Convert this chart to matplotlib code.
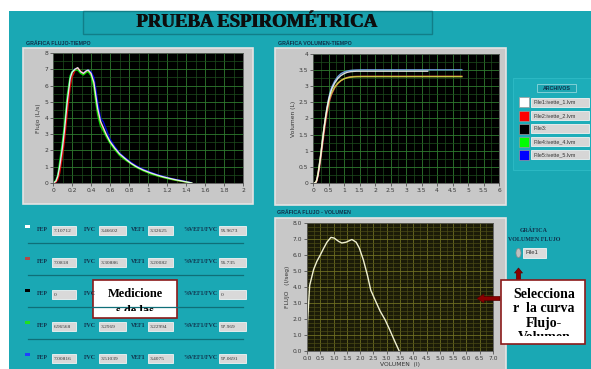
import matplotlib
matplotlib.use("Agg")
import matplotlib.pyplot as plt
from matplotlib.patches import Rectangle, FancyArrow, Ellipse
import numpy as np

# ---------------- data ----------------
file_labels = ['File1:ivette_1.lvm', 'File2:ivette_2.lvm', 'File3:',
               'File4:ivette_4.lvm', 'File5:ivette_5.lvm']
file_colors = ['#ffffff', '#ff0000', '#000000', '#00ff00', '#0000ff']
row_marker_colors = ['#ffffff', '#b04848', '#000000', '#20e020', '#2040ff']

# Flow - time (L/s)
t_flow = [0.0, 0.03, 0.05, 0.07, 0.1, 0.12, 0.15, 0.18, 0.2, 0.23, 0.26, 0.29,
          0.32, 0.35, 0.37, 0.4, 0.43, 0.45, 0.47, 0.5, 0.53, 0.56, 0.6, 0.65,
          0.7, 0.76, 0.82, 0.88, 0.95, 1.02, 1.09, 1.16, 1.23, 1.3, 1.37, 1.42, 1.46]
flow_file1 = [0, 0.1, 0.4, 1.0, 2.2, 3.2, 5.0, 6.4, 6.8, 7.0, 7.1, 6.85, 6.75, 6.9,
              6.95, 6.75, 6.2, 5.4, 4.6, 3.8, 3.4, 3.0, 2.55, 2.15, 1.8, 1.5, 1.22,
              1.0, 0.8, 0.64, 0.5, 0.38, 0.28, 0.19, 0.11, 0.05, 0.0]
flow_file2 = [0, 0.05, 0.2, 0.6, 1.7, 2.6, 4.3, 5.9, 6.5, 6.9, 7.05, 6.9, 6.7, 6.85,
              6.9, 6.7, 6.1, 5.2, 4.4, 3.7, 3.3, 2.95, 2.5, 2.1, 1.75, 1.45, 1.2,
              0.97, 0.77, 0.6, 0.46, 0.35, 0.25, 0.16, 0.09, 0.04, 0.0]
flow_file4 = [0, 0.15, 0.5, 1.3, 2.6, 3.6, 5.4, 6.6, 6.85, 6.95, 6.95, 6.75, 6.65,
              6.8, 6.85, 6.6, 5.9, 5.0, 4.2, 3.5, 3.2, 2.85, 2.45, 2.05, 1.7, 1.42,
              1.18, 0.95, 0.75, 0.58, 0.45, 0.34, 0.24, 0.16, 0.09, 0.04, 0.0]
flow_file5 = [0, 0.1, 0.45, 1.1, 2.4, 3.4, 5.1, 6.5, 6.85, 7.0, 7.0, 6.85, 6.75,
              6.9, 6.95, 6.85, 6.5, 5.8, 5.0, 4.0, 3.75, 3.3, 2.7, 2.25, 1.85, 1.55,
              1.28, 1.05, 0.85, 0.68, 0.53, 0.41, 0.3, 0.21, 0.13, 0.07, 0.02]

# Volume - time (L)
t_vol = [0.0, 0.08, 0.12, 0.16, 0.2, 0.25, 0.3, 0.35, 0.4, 0.45, 0.5, 0.55, 0.6,
         0.7, 0.8, 0.9, 1.0, 1.1, 1.2, 1.3, 1.4, 1.6, 2.0, 3.0, 3.7, 4.8]
vol_file1 = [0, 0, 0.08, 0.25, 0.5, 0.85, 1.25, 1.65, 2.0, 2.3, 2.55, 2.75, 2.9,
             3.1, 3.24, 3.33, 3.39, 3.43, 3.45, 3.46, 3.466, 3.466, 3.466, 3.466,
             3.466, np.nan]
vol_file2 = [0, 0, 0.05, 0.2, 0.42, 0.75, 1.12, 1.5, 1.85, 2.15, 2.4, 2.6, 2.75,
             2.95, 3.08, 3.17, 3.23, 3.27, 3.29, 3.3, 3.305, 3.309, 3.309, 3.309,
             3.309, 3.309]
vol_file4 = [0, 0, 0.1, 0.3, 0.55, 0.9, 1.3, 1.68, 2.0, 2.28, 2.5, 2.68, 2.8,
             2.98, 3.1, 3.18, 3.23, 3.26, 3.28, 3.29, 3.295, 3.297, 3.297, 3.297,
             3.297, 3.297]
vol_file5 = [0, 0, 0.09, 0.27, 0.53, 0.88, 1.28, 1.68, 2.03, 2.34, 2.6, 2.8, 2.96,
             3.16, 3.3, 3.39, 3.44, 3.47, 3.49, 3.5, 3.505, 3.51, 3.51, 3.51,
             3.51, 3.51]

# Flow - volume (File1)
vol_fv = [0.0, 0.02, 0.1, 0.25, 0.37, 0.5, 0.62, 0.75, 0.9, 1.02, 1.19, 1.31, 1.47,
          1.69, 1.85, 1.97, 2.12, 2.27, 2.4, 2.56, 2.75, 2.94, 3.12, 3.31, 3.47]
flow_fv = [0.0, 1.8, 4.1, 5.1, 5.6, 6.0, 6.4, 6.8, 7.1, 7.06, 6.85, 6.75, 6.8,
           6.97, 6.8, 6.43, 5.7, 4.76, 3.8, 3.2, 2.5, 1.95, 1.3, 0.58, 0.0]

# Measurements
fep = [7.10712, 7.0818, 0, 6.96568, 7.00816]
fvc = [3.46602, 3.30886, None, 3.2969, 3.51039]
vef1 = [3.32625, 3.20082, None, 3.22994, 3.4075]
ratio = [95.9673, 96.735, 0, 97.969, 97.0691]

# ---------------- layout ----------------
W, H = 591, 369
fig = plt.figure(figsize=(W / 100, H / 100), dpi=100)
fig.patch.set_facecolor('white')

TEAL = '#1aa8b4'
NAVY = '#10304a'
FRAME = '#c8c8c8'
SERIF = ['Liberation Serif', 'DejaVu Serif']
SANS = ['Liberation Sans', 'DejaVu Sans']


def px_axes(x0, y0, x1, y1, **kw):
    return fig.add_axes([x0 / W, 1 - y1 / H, (x1 - x0) / W, (y1 - y0) / H], **kw)


bg = px_axes(0, 0, W, H)
bg.set_xlim(0, W)
bg.set_ylim(H, 0)
bg.axis('off')

bg.add_patch(Rectangle((9, 11), W - 9, H - 11, facecolor=TEAL, edgecolor='none'))
# title box
bg.add_patch(Rectangle((83, 11), 349, 23, facecolor='#19a3af', edgecolor='#117e88', lw=1))
for dx in (-0.25, 0.25):
    bg.text(257 + dx, 22.5, 'PRUEBA ESPIROMÉTRICA', family=SERIF, weight='bold',
            fontsize=13.5, color='#0d0d0d', ha='center', va='center')

# panel labels
bg.text(26, 43.5, 'GRÁFICA FLUJO-TIEMPO', family=SANS, weight='bold', fontsize=3.8,
        color=NAVY, ha='left', va='center')
bg.text(278, 43.5, 'GRÁFICA VOLUMEN-TIEMPO', family=SANS, weight='bold', fontsize=3.8,
        color=NAVY, ha='left', va='center')
bg.text(277, 212.5, 'GRÁFICA FLUJO - VOLUMEN', family=SANS, weight='bold', fontsize=3.8,
        color=NAVY, ha='left', va='center')

# gray frames
for (x0, y0, x1, y1) in [(23, 48, 253, 204), (275, 48, 506, 205), (275, 218, 506, 372)]:
    bg.add_patch(Rectangle((x0, y0), x1 - x0, y1 - y0, facecolor=FRAME,
                           edgecolor='#e4e4e4', lw=1.2))

# legend "ARCHIVOS"
bg.add_patch(Rectangle((513, 78), 80, 92, facecolor='#1dadb9', edgecolor='#2bb8c3', lw=0.8))
bg.add_patch(Rectangle((537, 84), 39, 8, facecolor='#1ea6b2', edgecolor='#8fd6dc', lw=0.6))
bg.text(556.5, 88, 'ARCHIVOS', family=SANS, weight='bold', fontsize=3.8, color=NAVY,
        ha='center', va='center')
legend_y = [102, 115.5, 128.5, 141.5, 154.5]
for yc, lab, col in zip(legend_y, file_labels, file_colors):
    bg.add_patch(Rectangle((519, yc - 5), 9.5, 10, facecolor=col, edgecolor='#9a9a9a', lw=0.5))
    bg.add_patch(Rectangle((531, yc - 4.5), 58, 9, facecolor='#d6d6d6', edgecolor='#f2f2f2', lw=0.6))
    bg.text(533, yc, lab, family=SANS, fontsize=3.9, color='#333333', ha='left', va='center')

# measurement rows (row 3's VEF1 label and the middle fields lie under the note box)
row_y = [231, 263, 295, 327, 359]
for i, yc in enumerate(row_y):
    bg.add_patch(Rectangle((25, yc - 6), 5, 3, facecolor=row_marker_colors[i], edgecolor='none'))
    fields = [('FEP', 37, 52, 76, fep[i]), ('FVC', 84, 99, 126, fvc[i]),
              ('VEF1', 131, 148, 173, vef1[i]), ('%VEF1/FVC', 183, 219, 246, ratio[i])]
    for lab, lx, bx0, bx1, val in fields:
        covered = (fvc[i] is None) and lab == 'VEF1'
        if not covered:
            bg.text(lx, yc - 1.5, lab, family=SERIF, weight='bold', fontsize=4.2, color=NAVY,
                    ha='left', va='center')
        bg.add_patch(Rectangle((bx0, yc - 5), bx1 - bx0, 9, facecolor='#d9d9d9',
                               edgecolor='#f4f4f4', lw=0.6))
        if val is not None:
            bg.text(bx0 + 2, yc - 0.5, str(val), family=SERIF, fontsize=3.9,
                    color='#333333', ha='left', va='center')
    if i < 4:
        bg.plot([28, 243], [yc + 12, yc + 12], color='#0f6f78', lw=0.9)

# Gráfica volumen flujo control
bg.text(534, 230, 'GRÁFICA', family=SERIF, weight='bold', fontsize=4.3, color=NAVY,
        ha='center', va='center')
bg.text(534, 239.5, 'VOLUMEN FLUJO', family=SERIF, weight='bold', fontsize=4.3, color=NAVY,
        ha='center', va='center')
bg.add_patch(Ellipse((518.5, 253), 5, 9, facecolor='#c0c0c0', edgecolor='#8a8a8a', lw=0.5))
bg.add_patch(Rectangle((523, 248), 23, 10, facecolor='#dcdcdc', edgecolor='#f4f4f4', lw=0.6))
bg.text(525, 253, 'File1', family=SANS, fontsize=4.2, color='#333333', ha='left', va='center')

# Mediciones box
bg.add_patch(Rectangle((93, 280), 84, 38, facecolor='white', edgecolor='#8b1a1a', lw=1.2))
mclip = Rectangle((94, 281), 82, 30, transform=bg.transData)
for yy, s in [(294, 'Medicione'), (311.5, 's de las')]:
    t = bg.text(135, yy, s, family=SERIF, weight='bold', fontsize=9, color='black',
                ha='center', va='center')
    t.set_clip_path(mclip)
    t.set_clip_on(True)


def style_axes(ax, face, grid_major, grid_minor):
    ax.set_facecolor(face)
    ax.tick_params(which='major', labelsize=4.3, colors='#3a3a3a', length=2, width=0.5, pad=1.5)
    ax.tick_params(which='minor', length=0)
    ax.grid(True, which='major', color=grid_major, lw=0.6)
    ax.grid(True, which='minor', color=grid_minor, lw=0.5)
    for sp in ax.spines.values():
        sp.set_color('#555555')
        sp.set_linewidth(0.6)


# Panel 1: Flujo - tiempo
ax1 = px_axes(53, 53, 243, 183)
style_axes(ax1, 'black', '#2f7a2f', '#1d4d1d')
ax1.set_xlim(0, 2)
ax1.set_ylim(0, 8)
ax1.set_xticks(np.arange(0, 2.01, 0.2))
ax1.set_xticklabels(['0', '0.2', '0.4', '0.6', '0.8', '1', '1.2', '1.4', '1.6', '1.8', '2'])
ax1.set_xticks(np.arange(0, 2.01, 0.1), minor=True)
ax1.set_yticks(range(0, 9))
ax1.set_yticks(np.arange(0, 8.01, 0.5), minor=True)
ax1.set_ylabel('Flujo (L/s)', fontsize=4.3, color='#333333', labelpad=2)
for f, c in [(flow_file5, file_colors[4]), (flow_file2, file_colors[1]),
             (flow_file4, file_colors[3]), (flow_file1, file_colors[0])]:
    ax1.plot(t_flow, f, color=c, lw=1.0, alpha=0.85)

# Panel 2: Volumen - tiempo
ax2 = px_axes(313, 54, 499, 183)
style_axes(ax2, 'black', '#2f7a2f', '#1d4d1d')
ax2.set_xlim(0, 6)
ax2.set_ylim(0, 4)
ax2.set_xticks(np.arange(0, 6.01, 0.5))
ax2.set_xticklabels(['0', '0.5', '1', '1.5', '2', '2.5', '3', '3.5', '4', '4.5', '5', '5.5', '6'])
ax2.set_xticks(np.arange(0, 6.01, 0.25), minor=True)
ax2.set_yticks(np.arange(0, 4.01, 0.5))
ax2.set_yticklabels(['0', '0.5', '1', '1.5', '2', '2.5', '3', '3.5', '4'])
ax2.set_yticks(np.arange(0, 4.01, 0.25), minor=True)
ax2.set_ylabel('Volumen (L)', fontsize=4.3, color='#333333', labelpad=2)
for v, c in [(vol_file5, '#7fb3ff'), (vol_file2, '#ff6060'),
             (vol_file4, '#c8e040'), (vol_file1, file_colors[0])]:
    ax2.plot(t_vol, v, color=c, lw=1.0, alpha=0.85)

# Panel 3: Flujo - volumen
ax3 = px_axes(307, 223, 493, 351)
style_axes(ax3, '#1b1b08', '#6e6e22', '#4a4a16')
ax3.set_xlim(0, 7)
ax3.set_ylim(0, 8)
ax3.set_xticks(np.arange(0, 7.01, 0.5))
ax3.set_xticklabels(['%.1f' % v for v in np.arange(0, 7.01, 0.5)])
ax3.set_xticks(np.arange(0, 7.01, 0.25), minor=True)
ax3.set_yticks(np.arange(0, 8.01, 1))
ax3.set_yticklabels(['%.1f' % v for v in np.arange(0, 8.01, 1)])
ax3.set_yticks(np.arange(0, 8.01, 0.25), minor=True)
ax3.set_ylabel('FLUJO   (l/seg)', fontsize=4.3, color='#333333', labelpad=2)
ax3.set_xlabel('VOLUMEN  (l)', fontsize=4.3, color='#333333', labelpad=1)
ax3.plot(vol_fv, flow_fv, color='#f0f0d0', lw=1.0)

# Overlay: arrows and selection note
fg = px_axes(0, 0, W, H)
fg.set_xlim(0, W)
fg.set_ylim(H, 0)
fg.axis('off')
fg.patch.set_alpha(0)
fg.add_patch(FancyArrow(500, 298.5, -16, 0, width=4, head_width=9, head_length=7,
                        length_includes_head=False, facecolor='#8b0000', edgecolor='#5a0000', lw=0.5))
fg.add_patch(FancyArrow(518.5, 281, 0, -8, width=4, head_width=8, head_length=5,
                        length_includes_head=False, facecolor='#8b0000', edgecolor='#5a0000', lw=0.5))
fg.add_patch(Rectangle((501, 280), 84, 64, facecolor='white', edgecolor='#8b1a1a', lw=1.2))
sclip = Rectangle((502, 281), 82, 54.5, transform=fg.transData)
for yy, s in [(295, 'Selecciona'), (309, 'r  la curva'), (323, 'Flujo-'), (337.5, 'Volumen')]:
    t = fg.text(544, yy, s, family=SERIF, weight='bold', fontsize=10, color='black',
                ha='center', va='center')
    t.set_clip_path(sclip)
    t.set_clip_on(True)

fig.savefig('out.png', dpi=100, facecolor=fig.get_facecolor())
